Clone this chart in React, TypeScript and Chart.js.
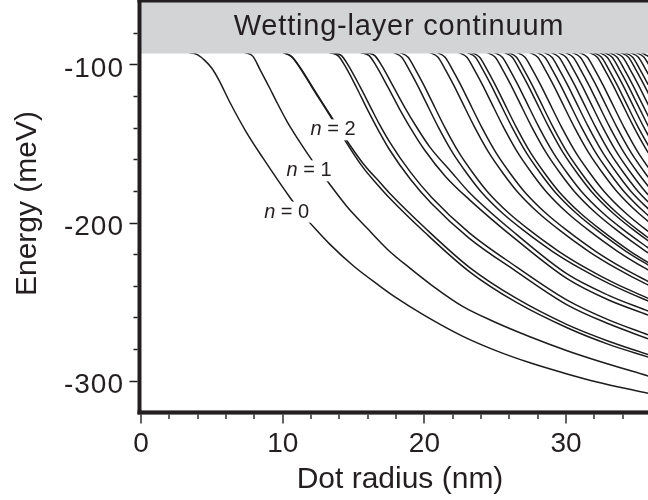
import React, { useEffect, useRef } from "react";
import { Chart, registerables } from "chart.js";

Chart.register(...registerables);

// Axis ranges (nm, meV) and the lower edge of the wetting-layer continuum
const RADIUS_RANGE = [0, 35.78];
const ENERGY_RANGE = [-320, -60];
const WETTING_EDGE = -93.2;

const RADIUS_MAJOR = [0, 10, 20, 30];
const RADIUS_MINOR = [2, 4, 6, 8, 12, 14, 16, 18, 22, 24, 26, 28, 32, 34];
const ENERGY_MAJOR = [-100, -200, -300];
const ENERGY_MINOR = [-80, -120, -140, -160, -180, -220, -240, -260, -280];

// Lowest bound levels as [radius (nm), energy (meV)]
const LEVEL_N0: number[][] = [
  [3.4, -92.5], [4.0, -94], [4.5, -97.5], [5.0, -102.5], [5.5, -110], [6.27, -124],
  [7.44, -143], [8.59, -159], [10.5, -184], [11.43, -195], [12.3, -204], [13.3, -213.5],
  [15.0, -227.5], [16.83, -240], [18.0, -247.5], [20.0, -258.7], [22.68, -271.8],
  [25.0, -280.8], [27.4, -288.5], [30.07, -295.7], [32.1, -300.6], [35.8, -308],
];
const LEVEL_N1: number[][] = [
  [7.3, -92.5], [7.9, -95], [8.38, -103], [9.08, -115], [9.5, -122.5], [10.3, -136],
  [11.2, -149], [12.1, -161], [13.0, -172], [14.5, -189.5], [16.0, -204], [17.4, -217],
  [19.0, -229], [20.5, -239.5], [22.7, -253], [25.0, -263], [27.4, -272], [30.07, -281],
  [32.1, -287], [35.8, -297],
];
const LEVEL_N2A: number[][] = [
  [10.0, -92.5], [10.6, -95], [11.2, -102], [12.1, -115], [13.3, -132], [14.25, -146],
  [15.65, -165], [16.83, -177.5], [17.54, -184.5], [20.0, -206], [23.17, -231],
  [26.5, -250.5], [30.07, -266.5], [33.0, -277], [35.8, -285],
];
const LEVEL_N2B: number[][] = [
  [10.02, -92.5], [10.62, -95], [11.22, -101.8], [12.12, -114.6], [13.32, -131.5],
  [14.28, -145], [15.7, -163], [16.9, -175], [17.6, -182], [20.05, -203.5],
  [23.2, -228.5], [26.5, -248], [30.07, -264.5], [33.0, -275], [35.8, -283.5],
];
const LEVEL_N3A: number[][] = [
  [13.3, -92.5], [13.9, -94.5], [14.4, -101], [15.2, -114.5], [16.0, -129], [16.83, -143],
  [17.54, -154], [19.0, -172.5], [20.5, -188], [23.17, -210], [26.5, -231], [30.07, -252],
  [33.0, -264], [35.8, -273.5],
];
const LEVEL_N3B: number[][] = [
  [13.55, -92.5], [14.15, -94.5], [14.65, -101], [15.45, -114], [16.25, -128],
  [16.83, -138], [17.54, -149], [19.0, -168], [20.5, -184], [23.17, -206.5],
  [26.5, -228], [30.07, -249], [33.0, -261.5], [35.8, -271],
];
const LEVEL_N4A: number[][] = [
  [15.5, -92.5], [16.1, -94.5], [16.6, -101], [17.4, -114], [18.2, -127.5], [19.0, -140],
  [20.0, -154], [21.5, -171], [23.17, -185.5], [26.5, -211], [30.07, -235.5],
  [33.0, -249], [35.8, -258.5],
];
const LEVEL_N4B: number[][] = [
  [15.9, -92.5], [16.5, -94.5], [17.0, -101], [17.8, -114], [18.6, -127], [19.4, -139],
  [20.4, -152.5], [21.9, -168], [23.17, -181], [26.5, -207.5], [30.07, -232.5],
  [33.0, -246], [35.8, -256],
];

// Higher levels: the radius (nm) at which each level reaches these energies (meV)
const UPPER_ENERGIES = [
  -92.5, -95.5, -103, -113, -122, -140, -156, -169, -180.5, -194, -205, -218, -229,
  -238.5, -248.5, -257,
];
const UPPER_RADII_MID: number[][] = [
  [17.8, 18.4, 18.9, 19.5, 20.0, 21.0, 22.0, 23.0, 24.0, 25.5, 27.0, 29.0, 31.0, 33.0, 35.5, 38.0],
  [18.25, 18.85, 19.35, 19.95, 20.45, 21.45, 22.45, 23.45, 24.45, 25.95, 27.45, 29.45, 31.45, 33.45, 35.95],
  [20.36, 20.96, 21.46, 22.06, 22.56, 23.56, 24.56, 25.56, 26.56, 28.06, 29.56, 31.56, 33.56, 35.56, 38.06],
  [20.86, 21.46, 21.96, 22.56, 23.06, 24.06, 25.06, 26.06, 27.06, 28.56, 30.06, 32.06, 34.06, 36.06],
  [22.4, 23.0, 23.5, 24.1, 24.6, 25.6, 26.6, 27.6, 28.6, 30.1, 31.6, 33.6, 35.6, 37.6],
  [23.0, 23.6, 24.1, 24.7, 25.2, 26.2, 27.2, 28.2, 29.2, 30.7, 32.2, 34.2, 36.2],
  [23.3, 23.9, 24.4, 25.0, 25.5, 26.5, 27.5, 28.5, 29.5, 31.0, 32.5, 34.5, 36.5],
  [24.4, 25.0, 25.5, 26.1, 26.6, 27.6, 28.6, 29.6, 30.6, 32.1, 33.6, 35.6, 37.6],
  [24.9, 25.5, 26.0, 26.6, 27.1, 28.1, 29.1, 30.1, 31.1, 32.6, 34.1, 36.1],
  [25.6, 26.2, 26.7, 27.3, 27.8, 28.8, 29.8, 30.8, 31.8, 33.3, 34.8, 36.8],
  [25.9, 26.5, 27.0, 27.6, 28.1, 29.1, 30.1, 31.1, 32.1, 33.6, 35.1, 37.1],
  [26.5, 27.1, 27.6, 28.2, 28.7, 29.7, 30.7, 31.7, 32.7, 34.2, 35.7, 37.7],
];
const UPPER_RADII_HIGH: number[][] = [
  [27.4, 28.0, 28.5, 29.1, 29.6, 30.6, 31.6, 32.6, 33.6, 35.1, 36.6],
  [27.9, 28.5, 29.0, 29.6, 30.1, 31.1, 32.1, 33.1, 34.1, 35.6, 37.1],
  [28.4, 29.0, 29.5, 30.1, 30.6, 31.6, 32.6, 33.6, 34.6, 36.1],
  [28.9, 29.5, 30.0, 30.6, 31.1, 32.1, 33.1, 34.1, 35.1, 36.6],
  [29.4, 30.0, 30.5, 31.1, 31.6, 32.6, 33.6, 34.6, 35.6, 37.1],
  [29.9, 30.5, 31.0, 31.6, 32.1, 33.1, 34.1, 35.1, 36.1],
  [30.4, 31.0, 31.5, 32.1, 32.6, 33.6, 34.6, 35.6, 36.6],
  [30.9, 31.5, 32.0, 32.6, 33.1, 34.1, 35.1, 36.1],
  [31.6, 32.2, 32.7, 33.3, 33.8, 34.8, 35.8, 36.8],
  [31.9, 32.5, 33.0, 33.6, 34.1, 35.1, 36.1],
  [32.3, 32.9, 33.4, 34.0, 34.5, 35.5, 36.5],
  [32.65, 33.25, 33.75, 34.35, 34.85, 35.85],
  [33.0, 33.6, 34.1, 34.7, 35.2, 36.2],
  [33.4, 34.0, 34.5, 35.1, 35.6, 36.6],
  [33.8, 34.4, 34.9, 35.5, 36.0],
  [34.1, 34.7, 35.2, 35.8, 36.3],
  [34.5, 35.1, 35.6, 36.2],
  [34.9, 35.5, 36.0],
  [35.3, 35.9],
];

// Level annotations: text and anchor (baseline centre) in data units
const LEVEL_LABELS = [
  { n: "0", r: 10.28, e: -196.9 },
  { n: "1", r: 11.86, e: -170.8 },
  { n: "2", r: 13.55, e: -144.9 },
];

const INK = "#231f20";
const LINE = "#1c1c1c";
const BAND = "#d3d4d6";
const FONT = "'Liberation Sans', Arial, Helvetica, sans-serif";

function pairsToPoints(pairs: number[][]) {
  return pairs.map(([x, y]) => ({ x, y }));
}

function radiiToPoints(radii: number[]) {
  return radii.map((x, i) => ({ x, y: UPPER_ENERGIES[i] }));
}

const decorPlugin = {
  id: "decor",
  afterDraw(chart: any) {
    const { ctx, chartArea: ca, scales } = chart;
    const xs = scales.x;
    const ys = scales.y;
    ctx.save();

    // wetting-layer continuum band
    const edgeY = ys.getPixelForValue(WETTING_EDGE);
    ctx.fillStyle = BAND;
    ctx.fillRect(ca.left, ca.top, ca.right - ca.left, edgeY - ca.top);
    ctx.fillStyle = INK;
    ctx.font = `29px ${FONT}`;
    if ("letterSpacing" in ctx) (ctx as any).letterSpacing = "0.8px";
    ctx.textAlign = "center";
    ctx.textBaseline = "alphabetic";
    ctx.fillText("Wetting-layer continuum", 399, 35);
    if ("letterSpacing" in ctx) (ctx as any).letterSpacing = "0px";

    // level labels on a white ground
    for (const lab of LEVEL_LABELS) {
      const cx = xs.getPixelForValue(lab.r);
      const by = ys.getPixelForValue(lab.e);
      ctx.font = `italic 20px ${FONT}`;
      const wn = ctx.measureText("n").width;
      ctx.font = `20px ${FONT}`;
      const rest = " = " + lab.n;
      const wr = ctx.measureText(rest).width;
      const x0 = cx - (wn + wr) / 2;
      ctx.fillStyle = "#ffffff";
      ctx.fillRect(x0 - 2, by - 16, wn + wr + 4, 21);
      ctx.fillStyle = INK;
      ctx.textAlign = "left";
      ctx.font = `italic 20px ${FONT}`;
      ctx.fillText("n", x0, by);
      ctx.font = `20px ${FONT}`;
      ctx.fillText(rest, x0 + wn, by);
    }

    // frame: top border, left and bottom axes
    ctx.fillStyle = INK;
    ctx.fillRect(ca.left - 3.5, 0, ca.right - ca.left + 4, 2.5);
    ctx.fillRect(ca.left - 3.5, 0, 4, ca.bottom + 2);
    ctx.fillRect(ca.left - 3.5, ca.bottom - 2, ca.right - ca.left + 4, 4.2);

    // ticks
    ctx.strokeStyle = INK;
    ctx.lineWidth = 1.4;
    ctx.beginPath();
    for (const v of RADIUS_MAJOR) {
      const px = Math.round(xs.getPixelForValue(v));
      ctx.moveTo(px, ca.bottom + 2);
      ctx.lineTo(px, ca.bottom + 11);
    }
    for (const v of RADIUS_MINOR) {
      const px = Math.round(xs.getPixelForValue(v));
      ctx.moveTo(px, ca.bottom + 2);
      ctx.lineTo(px, ca.bottom + 6.5);
    }
    for (const v of ENERGY_MAJOR) {
      const py = Math.round(ys.getPixelForValue(v)) + 0.5;
      ctx.moveTo(ca.left - 3.5, py);
      ctx.lineTo(ca.left - 11.5, py);
    }
    for (const v of ENERGY_MINOR) {
      const py = Math.round(ys.getPixelForValue(v)) + 0.5;
      ctx.moveTo(ca.left - 3.5, py);
      ctx.lineTo(ca.left - 7.5, py);
    }
    ctx.stroke();

    // tick labels
    ctx.fillStyle = INK;
    ctx.font = `28px ${FONT}`;
    ctx.textBaseline = "alphabetic";
    ctx.textAlign = "center";
    for (const v of RADIUS_MAJOR) {
      ctx.fillText(String(v), xs.getPixelForValue(v), 452);
    }
    ctx.textAlign = "right";
    if ("letterSpacing" in ctx) (ctx as any).letterSpacing = "1px";
    for (const v of ENERGY_MAJOR) {
      ctx.fillText(String(v), 124, ys.getPixelForValue(v) + 12.3);
    }
    if ("letterSpacing" in ctx) (ctx as any).letterSpacing = "0px";

    // axis titles
    ctx.font = `30px ${FONT}`;
    ctx.textAlign = "center";
    ctx.fillText("Dot radius (nm)", 400, 488);
    ctx.save();
    ctx.translate(35.5, 203.5);
    ctx.rotate(-Math.PI / 2);
    ctx.fillText("Energy (meV)", 0, 0);
    ctx.restore();

    ctx.restore();
  },
};

export default function App() {
  const canvasRef = useRef<HTMLCanvasElement | null>(null);

  useEffect(() => {
    const canvas = canvasRef.current;
    if (!canvas) return;

    const lower = [
      LEVEL_N0, LEVEL_N1, LEVEL_N2A, LEVEL_N2B, LEVEL_N3A, LEVEL_N3B, LEVEL_N4A, LEVEL_N4B,
    ].map(pairsToPoints);
    const upper = [...UPPER_RADII_MID, ...UPPER_RADII_HIGH].map(radiiToPoints);

    const datasets = [...lower, ...upper].map((data) => ({
      data,
      borderColor: LINE,
      borderWidth: 1.5,
      pointRadius: 0,
      fill: false,
      cubicInterpolationMode: "monotone" as const,
    }));

    const chart = new Chart(canvas, {
      type: "line",
      data: { datasets },
      options: {
        animation: false,
        responsive: false,
        devicePixelRatio: 1,
        events: [],
        layout: { padding: { top: 1, left: 0, right: 0, bottom: 0 } },
        plugins: { legend: { display: false }, tooltip: { enabled: false } },
        scales: {
          x: {
            type: "linear",
            min: RADIUS_RANGE[0],
            max: RADIUS_RANGE[1],
            ticks: { display: false },
            grid: { display: false },
            border: { display: false },
            afterFit: (s: any) => {
              s.height = 87.6;
            },
          },
          y: {
            type: "linear",
            min: ENERGY_RANGE[0],
            max: ENERGY_RANGE[1],
            ticks: { display: false },
            grid: { display: false },
            border: { display: false },
            afterFit: (s: any) => {
              s.width = 141;
            },
          },
        },
      },
      plugins: [decorPlugin],
    });

    return () => chart.destroy();
  }, []);

  return (
    <div style={{ position: "absolute", left: 0, top: 0, width: 648, height: 500, background: "#fff" }}>
      <canvas ref={canvasRef} width={648} height={500} style={{ display: "block" }} />
    </div>
  );
}
